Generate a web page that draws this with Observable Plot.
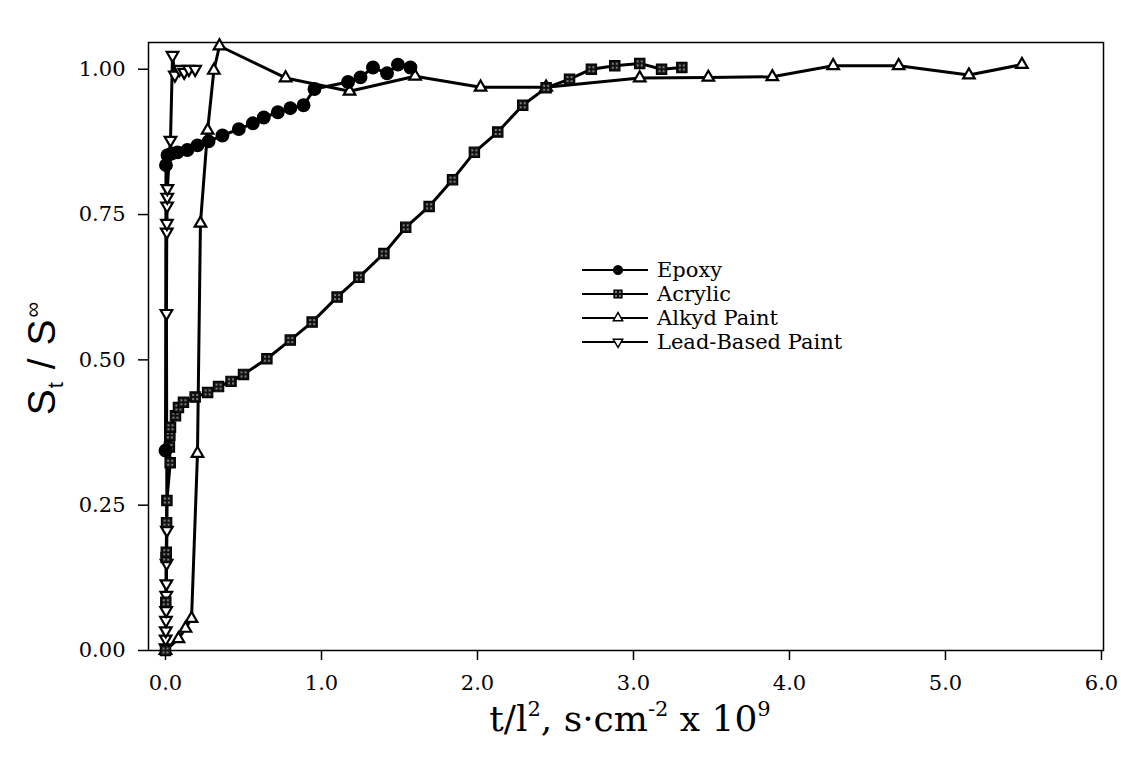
<!DOCTYPE html>
<html>
<head>
<meta charset="utf-8">
<script src="https://cdn.jsdelivr.net/npm/d3@7"></script>
<script src="https://cdn.jsdelivr.net/npm/@observablehq/plot@0.6"></script>
<style>
  html, body { margin: 0; padding: 0; background: #fff; }
  #chart { position: relative; width: 1121px; height: 760px; }
</style>
</head>
<body>
<div id="chart"></div>
<script>
// ---- data ----
const seriesNames = ["Epoxy", "Acrylic", "Alkyd Paint", "Lead-Based Paint"];

const epoxyX = [0.0, 0.003, 0.013, 0.04, 0.077, 0.14, 0.205, 0.276, 0.365, 0.47, 0.56, 0.63, 0.72, 0.80, 0.885, 0.955, 1.17, 1.25, 1.33, 1.42, 1.49, 1.57];
const epoxyY = [0.344, 0.835, 0.852, 0.855, 0.857, 0.861, 0.869, 0.876, 0.886, 0.897, 0.907, 0.917, 0.926, 0.933, 0.938, 0.966, 0.978, 0.986, 1.003, 0.993, 1.008, 1.003];

const acrylicX = [0.0, 0.002, 0.004, 0.005, 0.007, 0.009, 0.03, 0.025, 0.028, 0.032, 0.064, 0.083, 0.115, 0.19, 0.27, 0.34, 0.42, 0.50, 0.65, 0.80, 0.94, 1.10, 1.24, 1.40, 1.54, 1.69, 1.84, 1.98, 2.13, 2.29, 2.44, 2.59, 2.73, 2.88, 3.04, 3.18, 3.31];
const acrylicY = [0.0, 0.083, 0.16, 0.169, 0.22, 0.258, 0.323, 0.35, 0.37, 0.384, 0.404, 0.418, 0.427, 0.436, 0.444, 0.454, 0.463, 0.475, 0.502, 0.534, 0.565, 0.608, 0.642, 0.683, 0.728, 0.764, 0.81, 0.857, 0.892, 0.938, 0.968, 0.983, 1.0, 1.006, 1.01, 1.0, 1.003];

const alkydX = [0.0, 0.083, 0.128, 0.167, 0.205, 0.224, 0.27, 0.31, 0.346, 0.77, 1.18, 1.60, 2.02, 2.44, 3.04, 3.48, 3.89, 4.28, 4.70, 5.15, 5.49];
const alkydY = [0.0, 0.02, 0.038, 0.055, 0.339, 0.735, 0.895, 0.998, 1.04, 0.985, 0.962, 0.988, 0.969, 0.969, 0.985, 0.986, 0.987, 1.006, 1.006, 0.99, 1.008];

const leadX = [0.0, 0.001, 0.002, 0.003, 0.004, 0.005, 0.006, 0.007, 0.009, 0.006, 0.008, 0.009, 0.010, 0.011, 0.012, 0.032, 0.045, 0.06, 0.09, 0.12, 0.15, 0.19];
const leadY = [0.005, 0.02, 0.034, 0.052, 0.069, 0.095, 0.115, 0.15, 0.207, 0.58, 0.72, 0.735, 0.765, 0.78, 0.795, 0.878, 1.024, 0.99, 1.0, 0.995, 1.0, 1.0];

const xTicks = [0, 1, 2, 3, 4, 5, 6];
const yTicks = [0, 0.25, 0.5, 0.75, 1.0];

// ---- build tables ----
const toRows = (xs, ys, name) => xs.map((x, i) => ({x, y: ys[i], series: name}));
const epoxy = toRows(epoxyX, epoxyY, seriesNames[0]);
const acrylic = toRows(acrylicX, acrylicY, seriesNames[1]);
const alkyd = toRows(alkydX, alkydY, seriesNames[2]);
const lead = toRows(leadX, leadY, seriesNames[3]);

const LW = 3;
const FONT = "'DejaVu Serif', serif";
const plot = Plot.plot({
  width: 1121,
  height: 760,
  marginLeft: 148,
  marginRight: 18,
  marginTop: 42,
  marginBottom: 110,
  style: {fontFamily: FONT, fontSize: "21px", color: "#000", background: "#fff", overflow: "visible"},
  x: {domain: [-0.109, 6.013]},
  y: {domain: [0, 1.046]},
  marks: [
    Plot.frame({stroke: "#000", strokeWidth: 1.5}),
    Plot.axisX({ticks: xTicks, tickFormat: d => d.toFixed(1), tickSize: 10, tickPadding: 15, fontSize: 21, fontFamily: FONT, label: null, strokeWidth: 1.5}),
    Plot.axisY({ticks: yTicks, tickFormat: d => d.toFixed(2), tickSize: 10, tickPadding: 13, fontSize: 21, fontFamily: FONT, label: null, strokeWidth: 1.5}),
    Plot.line(alkyd, {x: "x", y: "y", stroke: "#000", strokeWidth: LW}),
    Plot.line(acrylic, {x: "x", y: "y", stroke: "#000", strokeWidth: LW}),
    Plot.line(lead, {x: "x", y: "y", stroke: "#000", strokeWidth: LW}),
    Plot.line(epoxy, {x: "x", y: "y", stroke: "#000", strokeWidth: LW}),
    Plot.dot(alkyd, {x: "x", y: "y", symbol: "triangle", r: 4.3, fill: "#fff", stroke: "#000", strokeWidth: 2.2}),
    Plot.dot(lead, {x: "x", y: "y", symbol: "triangle", rotate: 180, r: 4.3, fill: "#fff", stroke: "#000", strokeWidth: 2.2}),
    Plot.dot(acrylic, {x: "x", y: "y", symbol: "square", r: 5.8, fill: "url(#acrPat)", stroke: "#000", strokeWidth: 1.2}),
    Plot.dot(epoxy, {x: "x", y: "y", symbol: "circle", r: 6.2, fill: "#000", stroke: "#000"})
  ]
});

document.getElementById("chart").appendChild(plot);

const svg = d3.select(plot);
// pattern for the acrylic squares (black with white dots)
const defs = svg.insert("defs", ":first-child");
const pat = defs.append("pattern").attr("id", "acrPat").attr("patternUnits", "userSpaceOnUse")
  .attr("width", 4).attr("height", 4);
pat.append("rect").attr("width", 4).attr("height", 4).attr("fill", "#111");
pat.append("circle").attr("cx", 2).attr("cy", 2).attr("r", 0.8).attr("fill", "#fff");

// axis titles
const yl = svg.append("text")
  .attr("transform", "translate(55,358) rotate(-90)")
  .attr("text-anchor", "middle")
  .attr("font-family", "'Liberation Sans', Arial, sans-serif")
  .attr("font-size", 39)
  .attr("letter-spacing", 1)
  .attr("fill", "#000");
yl.append("tspan").text("S");
yl.append("tspan").attr("font-size", 22).attr("dy", 8).text("t");
yl.append("tspan").attr("dy", -8).text(" / S");
yl.append("tspan").attr("font-size", 22).attr("dy", -15).attr("dx", 1).text("\u221E");

const xl = svg.append("text")
  .attr("x", 630).attr("y", 731)
  .attr("text-anchor", "middle")
  .attr("font-family", FONT)
  .attr("font-size", 36)
  .attr("fill", "#000");
xl.append("tspan").text("t/l");
xl.append("tspan").attr("font-size", 21).attr("dy", -15).text("2");
xl.append("tspan").attr("dy", 15).text(", s\u00B7cm");
xl.append("tspan").attr("font-size", 21).attr("dy", -15).text("-2");
xl.append("tspan").attr("dy", 15).text(" x 10");
xl.append("tspan").attr("font-size", 21).attr("dy", -15).text("9");

// legend
const legend = svg.append("g").attr("transform", "translate(582,270)");
const legendSym = [
  {shape: d3.symbolCircle, size: 60, fill: "#000", rot: 0},
  {shape: d3.symbolSquare, size: 60, fill: "url(#acrPat)", rot: 0},
  {shape: d3.symbolTriangle, size: 38, fill: "#fff", rot: 0},
  {shape: d3.symbolTriangle, size: 38, fill: "#fff", rot: 180}
];
seriesNames.forEach((name, i) => {
  const g = legend.append("g").attr("transform", `translate(0,${i * 24})`);
  g.append("line").attr("x1", 0).attr("x2", 66).attr("y1", 0).attr("y2", 0)
    .attr("stroke", "#000").attr("stroke-width", 2.2);
  g.append("path").attr("d", d3.symbol(legendSym[i].shape, legendSym[i].size)())
    .attr("transform", `translate(36,0) rotate(${legendSym[i].rot})`)
    .attr("fill", legendSym[i].fill).attr("stroke", "#000").attr("stroke-width", 1.5);
  g.append("text").attr("x", 75).attr("y", 0).attr("dy", "0.35em")
    .attr("text-anchor", "start")
    .attr("font-family", FONT).attr("font-size", 21)
    .attr("fill", "#000").text(name);
});
</script>
</body>
</html>
